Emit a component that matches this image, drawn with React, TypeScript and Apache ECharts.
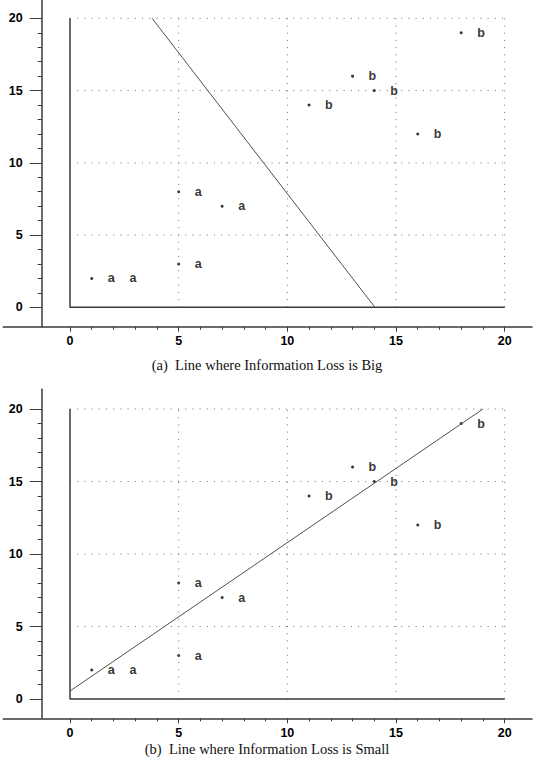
import React, { useEffect, useRef } from 'react';
import * as echarts from 'echarts';

// ---- data ----
const aPoints: number[][] = [[1, 2], [2, 2], [5, 3], [5, 8], [7, 7]];
const bPoints: number[][] = [[11, 14], [13, 16], [14, 15], [16, 12], [18, 19]];
const majorTicks = [0, 5, 10, 15, 20];
const minorTicks = [1, 2, 3, 4, 6, 7, 8, 9, 11, 12, 13, 14, 16, 17, 18, 19];
const gridLines = [5, 10, 15, 20];
const frameLine: number[][] = [[0, 20], [0, 0], [20, 0]];
const lineBig: number[][] = [[3.78, 20], [14.03, 0]];
const lineSmall: number[][] = [[0, 0.55], [19, 20]];
const captions = ['(a)\u00a0 Line where Information Loss is Big', '(b)\u00a0 Line where Information Loss is Small'];

const AXIS_COLOR = '#3a3a3a';
const LABEL_FONT = { color: '#000', fontFamily: 'Arial, "Liberation Sans", sans-serif', fontWeight: 700, fontSize: 12.5 };

function buildOption() {
  const grids = [
    { left: 3.27, top: 0, width: 528.8, height: 326.7, yMin: -1.34, yMax: 21.27, fitted: lineBig, capTop: 357 },
    { left: 3.27, top: 389.3, width: 528.8, height: 329, yMin: -1.33, yMax: 21.36, fitted: lineSmall, capTop: 741 },
  ];
  const xAxis: any[] = [];
  const yAxis: any[] = [];
  const series: any[] = [];
  const title: any[] = [];
  grids.forEach((g, i) => {
    const xBase = { type: 'value', gridIndex: i, min: -3.07, max: 21.26, position: 'bottom', splitLine: { show: false } };
    xAxis.push({
      ...xBase,
      axisLine: { show: true, onZero: false, lineStyle: { color: AXIS_COLOR, width: 1.5 } },
      axisTick: { show: true, customValues: majorTicks, length: 5, lineStyle: { color: AXIS_COLOR, width: 1 } },
      axisLabel: { show: true, customValues: majorTicks, margin: 8, ...LABEL_FONT },
    });
    xAxis.push({
      ...xBase,
      axisLine: { show: false, onZero: false },
      axisTick: { show: true, customValues: minorTicks, length: 3, lineStyle: { color: AXIS_COLOR, width: 1 } },
      axisLabel: { show: false },
    });
    const yBase = { type: 'value', gridIndex: i, min: g.yMin, max: g.yMax, position: 'left', offset: -38.4, splitLine: { show: false } };
    yAxis.push({
      ...yBase,
      axisLine: { show: true, onZero: false, lineStyle: { color: AXIS_COLOR, width: 1.5 } },
      axisTick: { show: true, customValues: majorTicks, length: 12, lineStyle: { color: AXIS_COLOR, width: 1 } },
      axisLabel: { show: true, customValues: majorTicks, margin: 19, ...LABEL_FONT },
    });
    yAxis.push({
      ...yBase,
      axisLine: { show: false, onZero: false },
      axisTick: { show: true, customValues: minorTicks, length: 4, lineStyle: { color: AXIS_COLOR, width: 1 } },
      axisLabel: { show: false },
    });
    const xi = 2 * i;
    const yi = 2 * i;
    // dotted grid lines
    gridLines.forEach((v) => {
      [[[v, 0], [v, 20]], [[0, v], [20, v]]].forEach((d) => {
        series.push({
          type: 'line', xAxisIndex: xi, yAxisIndex: yi, data: d, symbol: 'none', silent: true,
          lineStyle: { color: '#6e6e6e', width: 1, type: [1, 6.2] },
        });
      });
    });
    // solid inner frame
    series.push({
      type: 'line', xAxisIndex: xi, yAxisIndex: yi, data: frameLine, symbol: 'none', silent: true,
      lineStyle: { color: AXIS_COLOR, width: 1.5 },
    });
    // fitted line
    series.push({
      type: 'line', xAxisIndex: xi, yAxisIndex: yi, data: g.fitted, symbol: 'none', silent: true,
      lineStyle: { color: '#505050', width: 1 },
    });
    // points
    [{ pts: aPoints, name: 'a' }, { pts: bPoints, name: 'b' }].forEach((s) => {
      series.push({
        type: 'scatter', name: s.name, xAxisIndex: xi, yAxisIndex: yi, data: s.pts,
        symbol: 'circle', symbolSize: 3, itemStyle: { color: '#000' },
        label: {
          show: true, position: 'right', distance: 13.5, formatter: s.name, ...LABEL_FONT,
          backgroundColor: '#fff', padding: [0, 1],
        },
      });
    });
    title.push({
      text: captions[i], left: 'center', top: g.capTop,
      textStyle: { fontFamily: '"Liberation Serif", serif', fontWeight: 'normal', fontSize: 14.5, color: '#111' },
      padding: 0,
    });
  });
  return {
    animation: false,
    backgroundColor: '#fff',
    title,
    grid: grids.map((g) => ({ left: g.left, top: g.top, width: g.width, height: g.height, containLabel: false })),
    xAxis,
    yAxis,
    series,
  };
}

export default function App() {
  const ref = useRef<HTMLDivElement>(null);
  useEffect(() => {
    if (!ref.current) return;
    const chart = echarts.init(ref.current, undefined, { renderer: 'svg' });
    chart.setOption(buildOption() as any);
    return () => chart.dispose();
  }, []);
  return <div ref={ref} style={{ position: 'fixed', left: 0, top: 0, width: 534, height: 761, background: '#fff' }} />;
}
